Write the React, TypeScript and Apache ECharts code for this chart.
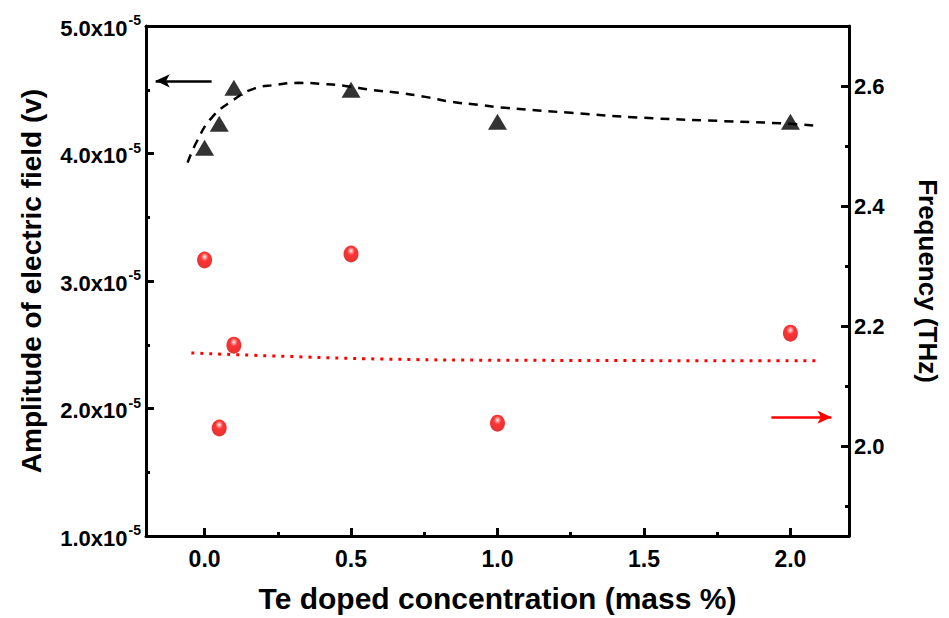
import React, { useEffect, useRef } from "react";
import * as echarts from "echarts";

// ---- data ----
const concentration = [0, 0.05, 0.1, 0.5, 1.0, 2.0];
const amplitude = [4.045, 4.233, 4.515, 4.5, 4.25, 4.25]; // x1e-5 V
const frequency = [2.31, 2.03, 2.168, 2.32, 2.038, 2.188]; // THz

const ampFitX = [-0.058, -0.027, 0.024, 0.099, 0.167, 0.242, 0.321, 0.399, 0.481, 0.57, 0.662, 0.754, 0.843, 0.935, 1.027, 1.25, 1.5, 1.75, 2.0, 2.09];
const ampFitY = [3.928, 4.092, 4.28, 4.421, 4.507, 4.538, 4.554, 4.546, 4.53, 4.499, 4.476, 4.444, 4.405, 4.382, 4.358, 4.319, 4.28, 4.256, 4.233, 4.217];

const freqFitX = [-0.045, 0.3, 0.6, 1.0, 2.09];
const freqFitY = [2.155, 2.149, 2.145, 2.143, 2.142];

const leftTicks = [1, 2, 3, 4, 5]; // x1e-5
const rightTickLabels = [2.0, 2.2, 2.4, 2.6];
const bottomTickLabels = [0, 0.5, 1.0, 1.5, 2.0];

const ampArrow = { x1: 0.024, x2: -0.167, y: 4.57 };
const freqArrow = { x1: 1.935, x2: 2.14, y: 2.048 };

const FONT = "'Liberation Sans', Arial, sans-serif";

export default function App() {
  const ref = useRef<HTMLDivElement>(null);
  useEffect(() => {
    if (!ref.current) return;
    const chart = echarts.init(ref.current, undefined, { renderer: "svg" });
    const near = (a: number, b: number) => Math.abs(a - b) < 1e-6;
    const option: any = {
      animation: false,
      backgroundColor: "#fff",
      grid: { left: 146, right: 98, top: 26, bottom: 81, containLabel: false },
      xAxis: [
        {
          type: "value",
          min: -0.2,
          max: 2.2,
          minInterval: 0.5,
          maxInterval: 0.5,
          position: "bottom",
          name: "Te doped concentration (mass %)",
          nameLocation: "middle",
          nameGap: 47,
          nameTextStyle: { fontFamily: FONT, fontWeight: "bold", fontSize: 30, color: "#000" },
          axisLine: { show: true, onZero: false, lineStyle: { color: "#000", width: 3 } },
          axisTick: { show: true, inside: true, length: 8, lineStyle: { width: 3, color: "#000" } },
          minorTick: { show: true, splitNumber: 2, length: 4, lineStyle: { width: 3, color: "#000" } },
          splitLine: { show: false },
          axisLabel: {
            margin: 11,
            fontFamily: FONT,
            fontWeight: "bold",
            fontSize: 23,
            color: "#000",
            formatter: (v: number) => (bottomTickLabels.some((t) => near(t, v)) ? v.toFixed(1) : ""),
          },
        },
        {
          type: "value",
          min: -0.2,
          max: 2.2,
          position: "top",
          axisLine: { show: true, onZero: false, lineStyle: { color: "#000", width: 3 } },
          axisTick: { show: false },
          axisLabel: { show: false },
          splitLine: { show: false },
        },
      ],
      yAxis: [
        {
          type: "value",
          min: 1e-5,
          max: 5e-5,
          interval: 1e-5,
          position: "left",
          name: "Amplitude of electric field (v)",
          nameLocation: "middle",
          nameRotate: 90,
          nameGap: 101,
          nameTextStyle: { fontFamily: FONT, fontWeight: "bold", fontSize: 28, color: "#000" },
          axisLine: { show: true, onZero: false, lineStyle: { color: "#000", width: 3 } },
          axisTick: { show: true, inside: true, length: 8, lineStyle: { width: 3, color: "#000" } },
          minorTick: { show: true, splitNumber: 2, length: 4, lineStyle: { width: 3, color: "#000" } },
          splitLine: { show: false },
          axisLabel: {
            margin: 5,
            formatter: (v: number) => {
              const m = v / 1e-5;
              if (!leftTicks.some((t) => near(t, m))) return "";
              return `{m|${m.toFixed(1)}x10}{s|-5}`;
            },
            rich: {
              m: { fontFamily: FONT, fontWeight: "bold", fontSize: 22, color: "#000", lineHeight: 26, verticalAlign: "bottom" },
              s: { fontFamily: FONT, fontWeight: "bold", fontSize: 14, color: "#000", lineHeight: 26, verticalAlign: "top", padding: [0, 0, 0, 1] },
            },
          },
        },
        {
          type: "value",
          min: 1.85,
          max: 2.7,
          minInterval: 0.2,
          maxInterval: 0.2,
          position: "right",
          name: "Frequency (THz)",
          nameLocation: "middle",
          nameRotate: -90,
          nameGap: 66,
          nameTextStyle: { fontFamily: FONT, fontWeight: "bold", fontSize: 26, color: "#000" },
          axisLine: { show: true, onZero: false, lineStyle: { color: "#000", width: 3 } },
          axisTick: { show: true, inside: true, length: 8, lineStyle: { width: 3, color: "#000" } },
          minorTick: { show: true, splitNumber: 2, length: 4, lineStyle: { width: 3, color: "#000" } },
          splitLine: { show: false },
          axisLabel: {
            margin: 5,
            fontFamily: FONT,
            fontWeight: "bold",
            fontSize: 22,
            color: "#000",
            formatter: (v: number) => (rightTickLabels.some((t) => near(t, v)) ? v.toFixed(1) : ""),
          },
        },
      ],
      series: [
        {
          type: "line",
          xAxisIndex: 0,
          yAxisIndex: 0,
          smooth: true,
          showSymbol: false,
          silent: true,
          data: ampFitX.map((x, i) => [x, ampFitY[i] * 1e-5]),
          lineStyle: { color: "#000", width: 2.5, type: [9, 7] },
          z: 2,
        },
        {
          type: "scatter",
          xAxisIndex: 0,
          yAxisIndex: 0,
          symbol: "triangle",
          symbolSize: [19, 16],
          itemStyle: { color: "#000" },
          data: concentration.map((x, i) => [x, amplitude[i] * 1e-5]),
          markLine: {
            silent: true,
            symbol: ["none", "arrow"],
            symbolSize: [10, 14],
            label: { show: false },
            lineStyle: { color: "#000", width: 2.5, type: "solid" },
            data: [[{ coord: [ampArrow.x1, ampArrow.y * 1e-5] }, { coord: [ampArrow.x2, ampArrow.y * 1e-5] }]],
          },
          z: 3,
        },
        {
          type: "line",
          xAxisIndex: 0,
          yAxisIndex: 1,
          smooth: true,
          showSymbol: false,
          silent: true,
          data: freqFitX.map((x, i) => [x, freqFitY[i]]),
          lineStyle: { color: "#ff0000", width: 3, type: [3, 6] },
          z: 2,
        },
        {
          type: "scatter",
          xAxisIndex: 0,
          yAxisIndex: 1,
          symbol: "circle",
          symbolSize: [15, 17],
          itemStyle: {
            color: {
              type: "radial",
              x: 0.5,
              y: 0.32,
              r: 0.62,
              colorStops: [
                { offset: 0, color: "#ffffff" },
                { offset: 0.15, color: "#ff9090" },
                { offset: 0.4, color: "#ff0000" },
                { offset: 1, color: "#e00000" },
              ],
            },
          },
          data: concentration.map((x, i) => [x, frequency[i]]),
          markLine: {
            silent: true,
            symbol: ["none", "arrow"],
            symbolSize: [10, 14],
            label: { show: false },
            lineStyle: { color: "#ff0000", width: 2.5, type: "solid" },
            data: [[{ coord: [freqArrow.x1, freqArrow.y] }, { coord: [freqArrow.x2, freqArrow.y] }]],
          },
          z: 3,
        },
      ],
    };
    chart.setOption(option);
    return () => chart.dispose();
  }, []);
  return <div ref={ref} style={{ width: 949, height: 618, position: "absolute", left: 0, top: 0 }} />;
}
